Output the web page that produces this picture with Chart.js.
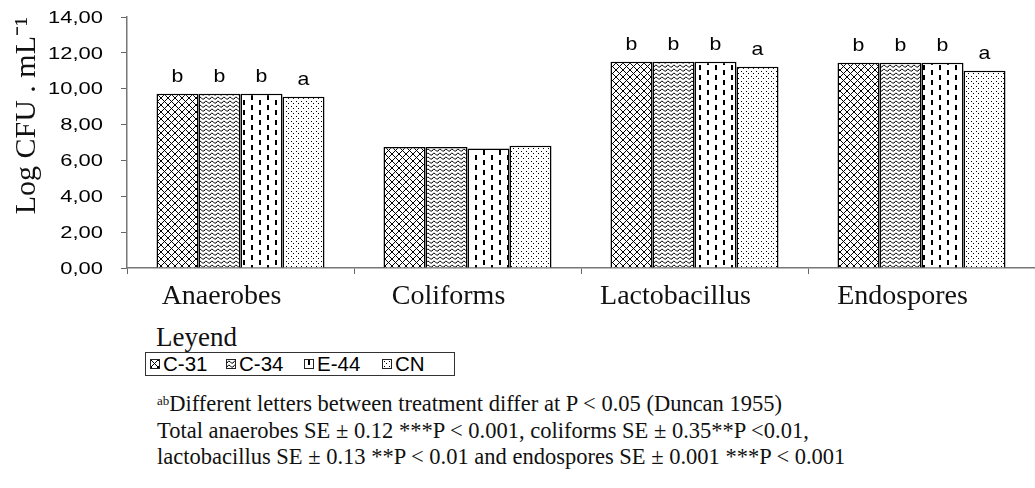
<!DOCTYPE html>
<html>
<head>
<meta charset="utf-8">
<script src="https://cdn.jsdelivr.net/npm/chart.js@4"></script>
<style>
  body { margin: 0; background: #fff; width: 1035px; height: 488px; overflow: hidden; position: relative; }
  #wrap { position: absolute; left: 0; top: 0; width: 1035px; height: 322px; }
  #leyend { position: absolute; left: 156px; top: 322px; font: 27px "Liberation Serif", "Times New Roman", serif; line-height: 30px; color: #111; }
  #legendBox { position: absolute; left: 145px; top: 352px; width: 308px; height: 22px; border: 1px solid #333; font: 20.5px "Liberation Sans", Arial, sans-serif; color: #000; }
  .item { position: absolute; top: 0; height: 22px; }
  .item span.sw { position: absolute; left: 0; top: 6px; width: 8px; height: 8px; border: 1px solid #222; }
  .item span.tx { position: absolute; left: 13px; top: 0; line-height: 22px; white-space: nowrap; }
  #notes { position: absolute; left: 157px; top: 391px; font: 22.5px "Liberation Serif", "Times New Roman", serif; color: #111; line-height: 26.5px; white-space: nowrap; }
  #notes sup { font-size: 13px; vertical-align: 6px; line-height: 0; }
</style>
</head>
<body>
<div id="wrap"><canvas id="chart"></canvas></div>
<div id="leyend">Leyend</div>
<div id="legendBox"></div>
<div id="notes">
  <div><sup>ab</sup>Different letters between treatment differ at P &lt; 0.05 (Duncan 1955)</div>
  <div>Total anaerobes SE ± 0.12 ***P &lt; 0.001, coliforms SE ± 0.35**P &lt;0.01,</div>
  <div>lactobacillus SE ± 0.13 **P &lt; 0.01 and endospores SE ± 0.001 ***P &lt; 0.001</div>
</div>
<script>
const categories = ['Anaerobes', 'Coliforms', 'Lactobacillus', 'Endospores'];
const seriesNames = ['C-31', 'C-34', 'E-44', 'CN'];
const c31 = [9.72, 6.75, 11.5, 11.45];
const c34 = [9.72, 6.75, 11.5, 11.45];
const e44 = [9.72, 6.67, 11.5, 11.45];
const cn = [9.55, 6.82, 11.23, 11.0];
const lettersC31 = ['b', '', 'b', 'b'];
const lettersC34 = ['b', '', 'b', 'b'];
const lettersE44 = ['b', '', 'b', 'b'];
const lettersCN = ['a', '', 'a', 'a'];
const yTicks = [0, 2, 4, 6, 8, 10, 12, 14];

// hatch patterns
function makeTile(w, h, draw) {
  const c = document.createElement('canvas');
  c.width = w; c.height = h;
  const g = c.getContext('2d');
  g.fillStyle = '#fff';
  g.fillRect(0, 0, w, h);
  g.strokeStyle = '#000';
  g.fillStyle = '#000';
  draw(g);
  return c;
}
const tiles = [
  makeTile(7, 7, g => {
    g.lineWidth = 1;
    g.beginPath();
    g.moveTo(-1, -1); g.lineTo(8, 8);
    g.moveTo(8, -1); g.lineTo(-1, 8);
    g.stroke();
  }),
  makeTile(6, 4, g => {
    g.lineWidth = 1;
    g.beginPath();
    g.moveTo(0, 3);
    g.quadraticCurveTo(1.5, 0, 3, 1.5);
    g.quadraticCurveTo(4.5, 4, 6, 3);
    g.stroke();
  }),
  makeTile(16, 10, g => {
    g.fillRect(3, 0, 2, 5);
    g.fillRect(11, 5, 2, 5);
  }),
  makeTile(5, 5, g => {
    g.fillRect(1, 1, 1, 1);
    g.fillRect(3, 3, 1, 1);
  })
];
const ctx = document.getElementById('chart').getContext('2d');
const patterns = tiles.map(t => ctx.createPattern(t, 'repeat'));

const seriesValues = [c31, c34, e44, cn];
const seriesLetters = [lettersC31, lettersC34, lettersE44, lettersCN];

// html legend
const box = document.getElementById('legendBox');
const itemLeft = [4, 80, 158, 236];
seriesNames.forEach((name, i) => {
  const d = document.createElement('div');
  d.className = 'item';
  d.style.left = itemLeft[i] + 'px';
  const sw = document.createElement('span');
  sw.className = 'sw';
  sw.style.backgroundImage = 'url(' + tiles[i].toDataURL() + ')';
  const tx = document.createElement('span');
  tx.className = 'tx';
  tx.textContent = name;
  d.appendChild(sw); d.appendChild(tx);
  box.appendChild(d);
});

// letters above bars + wide y tick labels
const letterPlugin = {
  id: 'letters',
  afterDatasetsDraw(chart) {
    const c = chart.ctx;
    c.save();
    c.font = '19px "Liberation Sans", Arial, sans-serif';
    c.fillStyle = '#000';
    c.textAlign = 'center';
    c.textBaseline = 'alphabetic';
    chart.data.datasets.forEach((ds, i) => {
      chart.getDatasetMeta(i).data.forEach((bar, j) => {
        const t = seriesLetters[i][j];
        if (!t) return;
        c.save();
        c.translate(bar.x, bar.y - 12);
        c.scale(1.12, 1);
        c.fillText(t, 0, 0);
        c.restore();
      });
    });
    c.restore();
  },
  afterDraw(chart) {
    const y = chart.scales.y;
    const c = chart.ctx;
    c.save();
    c.font = '17px "Liberation Sans", Arial, sans-serif';
    c.fillStyle = '#000';
    c.textAlign = 'right';
    c.textBaseline = 'middle';
    yTicks.forEach(v => {
      c.save();
      c.translate(y.right - 24, y.getPixelForValue(v) + 1);
      c.scale(1.29, 1);
      c.fillText(v.toFixed(2).replace('.', ','), 0, 0);
      c.restore();
    });
    c.restore();
  }
};

new Chart(ctx, {
  type: 'bar',
  data: {
    labels: categories,
    datasets: seriesNames.map((name, i) => ({
      label: name,
      data: seriesValues[i],
      backgroundColor: patterns[i],
      borderColor: '#000',
      borderWidth: 1.5
    }))
  },
  options: {
    responsive: true,
    maintainAspectRatio: false,
    animation: false,
    layout: { padding: { top: 17, left: 0, right: 0, bottom: 0 } },
    datasets: { bar: { categoryPercentage: 0.74, barPercentage: 1 } },
    plugins: { legend: { display: false }, tooltip: { enabled: false } },
    scales: {
      x: {
        offset: true,
        grid: { offset: true, drawOnChartArea: false, drawTicks: true, tickLength: 6, color: '#666' },
        border: { color: '#777', width: 1.5 },
        ticks: {
          color: '#111', padding: 6, maxRotation: 0, labelOffset: -19,
          font: { family: '"Liberation Serif", "Times New Roman", serif', size: 28 }
        },
        afterFit(scale) { scale.height = 54; }
      },
      y: {
        min: 0, max: 14,
        afterBuildTicks(scale) { scale.ticks = yTicks.map(v => ({ value: v })); },
        grid: { drawOnChartArea: false, tickLength: 6, color: '#666' },
        border: { color: '#777', width: 1.5 },
        ticks: { display: false },
        title: {
          display: true,
          text: 'Log CFU . mL⁻¹',
          color: '#111',
          align: 'end',
          padding: { top: 9, bottom: 0 },
          font: { family: '"Liberation Serif", "Times New Roman", serif', size: 30 }
        },
        afterFit(scale) { scale.width = 127; }
      }
    }
  },
  plugins: [letterPlugin]
});
</script>
</body>
</html>
